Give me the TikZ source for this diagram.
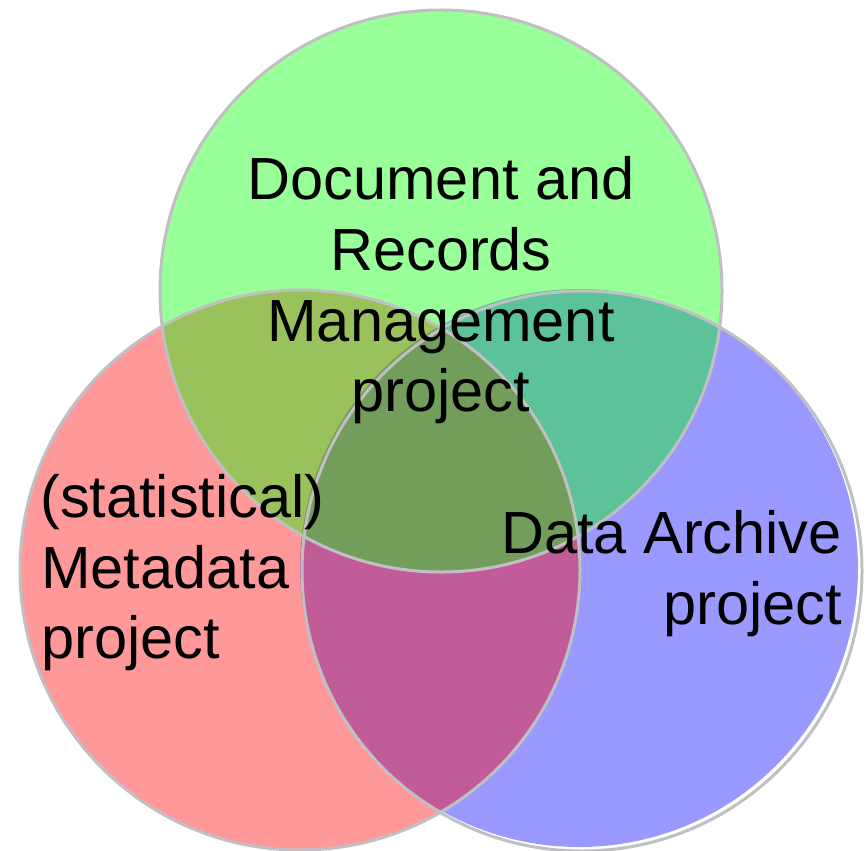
\documentclass[tikz,border=0pt]{standalone}
\usepackage{fontspec}
\setmainfont{Liberation Sans}
\begin{document}
\begin{tikzpicture}[x=1pt,y=-1pt,
  fillc/.style={fill opacity=0.4, draw=none},
  ring/.style={draw={rgb,255:red,192;green,192;blue,196}, line width=3pt},
  lbl/.style={inner sep=0pt, font=\fontsize{59.5}{71}\selectfont}]
\useasboundingbox (0,0) rectangle (866,850);
% fills: blue, red, green (green on top)
\fill[fillc, fill={rgb,255:red,0;green,0;blue,255}] (579,568) circle (279);
\fill[fillc, fill={rgb,255:red,255;green,0;blue,0}] (300,570) circle (280);
\fill[fillc, fill={rgb,255:red,0;green,255;blue,0}] (441,291) circle (281);
% outlines
\draw[ring] (582,571) circle (280);
\draw[ring] (300,570) circle (280);
\draw[ring] (441,291) circle (281);
% texts
\node[lbl, anchor=base] (t1) at (441,200) {Document and};
\node[lbl, anchor=base] (t2) at (441,270) {Records};
\node[lbl, anchor=base] (t3) at (441,341) {Management};
\node[lbl, anchor=base] (t4) at (441,411) {project};
\node[lbl, anchor=base west] (l1) at (40,517) {(statistical)};
\node[lbl, anchor=base west] (l2) at (41,588) {Metadata};
\node[lbl, anchor=base west] (l3) at (41,658) {project};
\node[lbl, anchor=base east] (r1) at (842,553) {Data Archive};
\node[lbl, anchor=base east] (r2) at (842,624) {project};
\end{tikzpicture}
\end{document}
